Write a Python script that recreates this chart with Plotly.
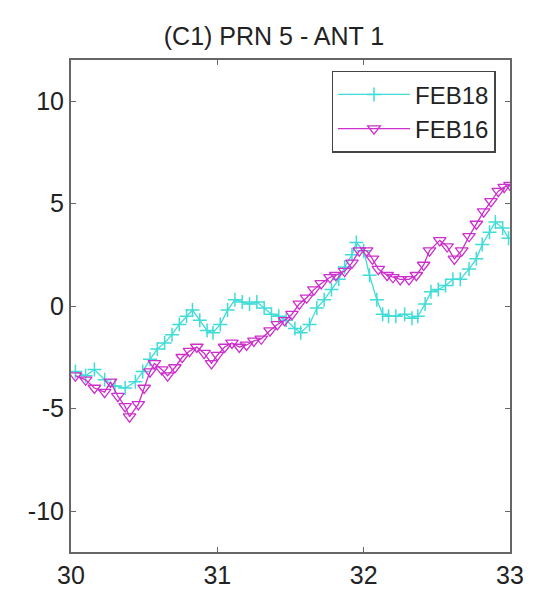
import plotly.graph_objects as go

title_text = "(C1) PRN 5 - ANT 1"

feb18_x = [30.03, 30.10, 30.16, 30.23, 30.30, 30.37, 30.44, 30.49, 30.54, 30.59, 30.64, 30.69,
           30.74, 30.79, 30.83, 30.88, 30.93, 30.97, 31.02, 31.07, 31.12, 31.17, 31.22, 31.27,
           31.32, 31.37, 31.42, 31.47, 31.53, 31.57, 31.63, 31.68, 31.73, 31.78, 31.83, 31.87,
           31.92, 31.95, 32.00, 32.04, 32.09, 32.13, 32.17, 32.22, 32.28, 32.33, 32.37, 32.42,
           32.46, 32.51, 32.56, 32.61, 32.66, 32.72, 32.77, 32.81, 32.86, 32.90, 32.95, 32.99]
feb18_y = [-3.2, -3.4, -3.1, -3.6, -3.9, -4.0, -3.7, -3.2, -2.6, -2.1, -1.8, -1.4,
           -0.9, -0.5, -0.2, -0.7, -1.2, -1.3, -0.9, -0.2, 0.3, 0.2, 0.1, 0.2,
           -0.1, -0.4, -0.5, -0.7, -1.1, -1.3, -0.9, -0.1, 0.3, 0.8, 1.3, 1.9,
           2.5, 3.1, 2.7, 1.5, 0.3, -0.4, -0.5, -0.5, -0.4, -0.6, -0.5, 0.1,
           0.7, 0.8, 1.0, 1.3, 1.3, 1.8, 2.3, 3.0, 3.6, 4.1, 3.8, 3.3]

feb16_x = [30.03, 30.10, 30.16, 30.23, 30.27, 30.32, 30.37, 30.40, 30.46, 30.50, 30.54, 30.57,
           30.62, 30.66, 30.71, 30.76, 30.81, 30.86, 30.91, 30.96, 31.00, 31.05, 31.10, 31.15,
           31.20, 31.25, 31.30, 31.36, 31.41, 31.46, 31.51, 31.56, 31.61, 31.66, 31.71, 31.77,
           31.81, 31.87, 31.92, 31.97, 32.02, 32.06, 32.10, 32.16, 32.20, 32.25, 32.31, 32.36,
           32.41, 32.45, 32.52, 32.57, 32.62, 32.67, 32.72, 32.77, 32.82, 32.87, 32.92, 32.96, 33.00]
feb16_y = [-3.4, -3.6, -4.0, -4.2, -3.7, -4.4, -4.9, -5.4, -4.8, -4.0, -3.2, -2.8,
           -3.1, -3.4, -3.0, -2.5, -2.2, -2.0, -2.3, -2.8, -2.4, -2.0, -1.8, -2.0,
           -1.9, -1.7, -1.6, -1.2, -0.9, -0.7, -0.4, 0.1, 0.4, 0.8, 1.1, 1.4,
           1.5, 1.7, 2.1, 2.7, 2.7, 2.3, 1.8, 1.5, 1.4, 1.3, 1.3, 1.5,
           2.0, 2.7, 3.2, 2.9, 2.3, 2.7, 3.4, 4.0, 4.6, 5.1, 5.6, 5.8, 5.9]

x_ticks = [30, 31, 32, 33]
x_labels = ["30", "31", "32", "33"]
y_ticks = [-10, -5, 0, 5, 10]
y_labels = ["-10", "-5", "0", "5", "10"]

cyan = "#3fdcd8"
magenta = "#cc2fcc"
font_family = "Liberation Sans, Arial, sans-serif"

fig = go.Figure()
fig.add_trace(go.Scatter(
    x=feb18_x, y=feb18_y, name="FEB18", mode="lines+markers",
    line=dict(color=cyan, width=1.3),
    marker=dict(symbol="cross-thin", size=10, color=cyan, line=dict(color=cyan, width=1.5)),
))
fig.add_trace(go.Scatter(
    x=feb16_x, y=feb16_y, name="FEB16", mode="lines+markers",
    line=dict(color=magenta, width=1.3),
    marker=dict(symbol="triangle-down-open", size=11, color=magenta, line=dict(color=magenta, width=1.3)),
))

axis_common = dict(
    showgrid=False, zeroline=False, showline=True, linecolor="#666666", linewidth=2,
    mirror="ticks", ticks="inside", ticklen=5, tickcolor="#666666",
    tickfont=dict(family=font_family, size=25, color="#222222"),
)

fig.update_layout(
    width=548, height=601,
    margin=dict(l=71, r=38, t=60, b=43),
    paper_bgcolor="white", plot_bgcolor="white",
    title=dict(text=title_text, x=0.5, xanchor="center", y=0.94, yanchor="middle",
               font=dict(family=font_family, size=25, color="#222222")),
    xaxis=dict(range=[30, 33], tickvals=x_ticks, ticktext=x_labels, **axis_common),
    yaxis=dict(range=[-12, 12], tickvals=y_ticks, ticktext=y_labels, ticklabelstandoff=0, **axis_common),
    legend=dict(x=0.967, y=0.978, xanchor="right", yanchor="top",
                bgcolor="white", bordercolor="#444444", borderwidth=1.5,
                font=dict(family=font_family, size=24, color="#222222"),
                itemwidth=72, tracegroupgap=0),
    showlegend=True,
)

fig.write_html("out.html")
